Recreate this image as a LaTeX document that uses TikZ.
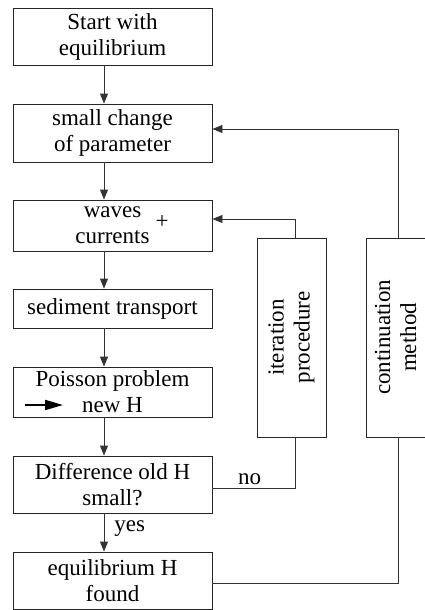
\documentclass[tikz,border=0pt]{standalone}
\usepackage{fontspec}
\setmainfont{Liberation Serif}
\usetikzlibrary{arrows.meta}
\begin{document}
\begin{tikzpicture}[x=1pt,y=-1pt,
  box/.style={draw=black!85, line width=0.9pt, minimum width=199pt, inner sep=0pt, align=center, font=\fontsize{23}{26}\selectfont},
  vbox/.style={draw=black!85, line width=0.9pt, minimum height=199pt, inner sep=0pt, font=\fontsize{23}{26}\selectfont},
  lbl/.style={font=\fontsize{23}{26}\selectfont, inner sep=0pt},
  conn/.style={draw=black!80, line width=0.9pt},
  arr/.style={conn, -{Triangle[length=10pt,width=8pt]}}]
\clip (0,0) rectangle (425,610);
\useasboundingbox (0,0) rectangle (425,610);
\node[box, minimum height=57pt] (b1) at (112.5,36.5) {Start with\\equilibrium};
\node[box, minimum height=58pt] (b2) at (112.5,133) {small change\\of parameter};
\node[box, minimum height=51pt] (b3) at (112.5,225.5) {waves\\currents};
\node[lbl] (plus) at (162,222) {+};
\node[box, minimum height=39pt] (b4) at (112.5,308.5) {sediment transport};
\node[box, minimum height=50pt] (b5) at (112.5,392) {Poisson problem\\new H};
\node[box, minimum height=57pt] (b6) at (112.5,484.5) {Difference old H\\small?};
\node[box, minimum height=57pt] (b7) at (112.5,580.5) {equilibrium H\\found};
\node[vbox, minimum width=69pt] (iter) at (291.5,337.5) {\rotatebox{90}{\begin{tabular}{@{}c@{}}iteration\\procedure\end{tabular}}};
\node[vbox, minimum width=64pt] (cont) at (398,337.5) {\rotatebox{90}{\begin{tabular}{@{}c@{}}continuation\\method\end{tabular}}};
\coordinate (ax) at (104,0);
\coordinate (ix) at (295,0);
\coordinate (cx) at (398,0);
% arrow symbol inside Poisson box
\draw[line width=2pt, -{Triangle[length=18pt,width=10pt]}] (25,405) -- (63,405);
% main flow
\draw[arr] (b1.south -| ax) -- (b2.north -| ax);
\draw[arr] (b2.south -| ax) -- (b3.north -| ax);
\draw[arr] (b3.south -| ax) -- (b4.north -| ax);
\draw[arr] (b4.south -| ax) -- (b5.north -| ax);
\draw[arr] (b5.south -| ax) -- (b6.north -| ax);
\draw[arr] (b6.south -| ax) -- node[lbl, right=10pt, pos=0.4] (yes) {yes} (b7.north -| ax);
% iteration loop
\draw[conn] ([yshift=-3.5pt]b6.east) -- node[lbl, above=3pt, pos=0.45] (no) {no} ([yshift=-3.5pt]b6.east -| ix) -- (iter.south -| ix);
\draw[arr] (iter.north -| ix) -- ([yshift=6.5pt]b3.east -| ix) -- ([yshift=6.5pt]b3.east);
% continuation loop
\draw[conn] ([yshift=-2.5pt]b7.east) -- ([yshift=-2.5pt]b7.east -| cx) -- (cont.south -| cx);
\draw[arr] (cont.north -| cx) -- ([yshift=4pt]b2.east -| cx) -- ([yshift=4pt]b2.east);
\end{tikzpicture}
\end{document}
